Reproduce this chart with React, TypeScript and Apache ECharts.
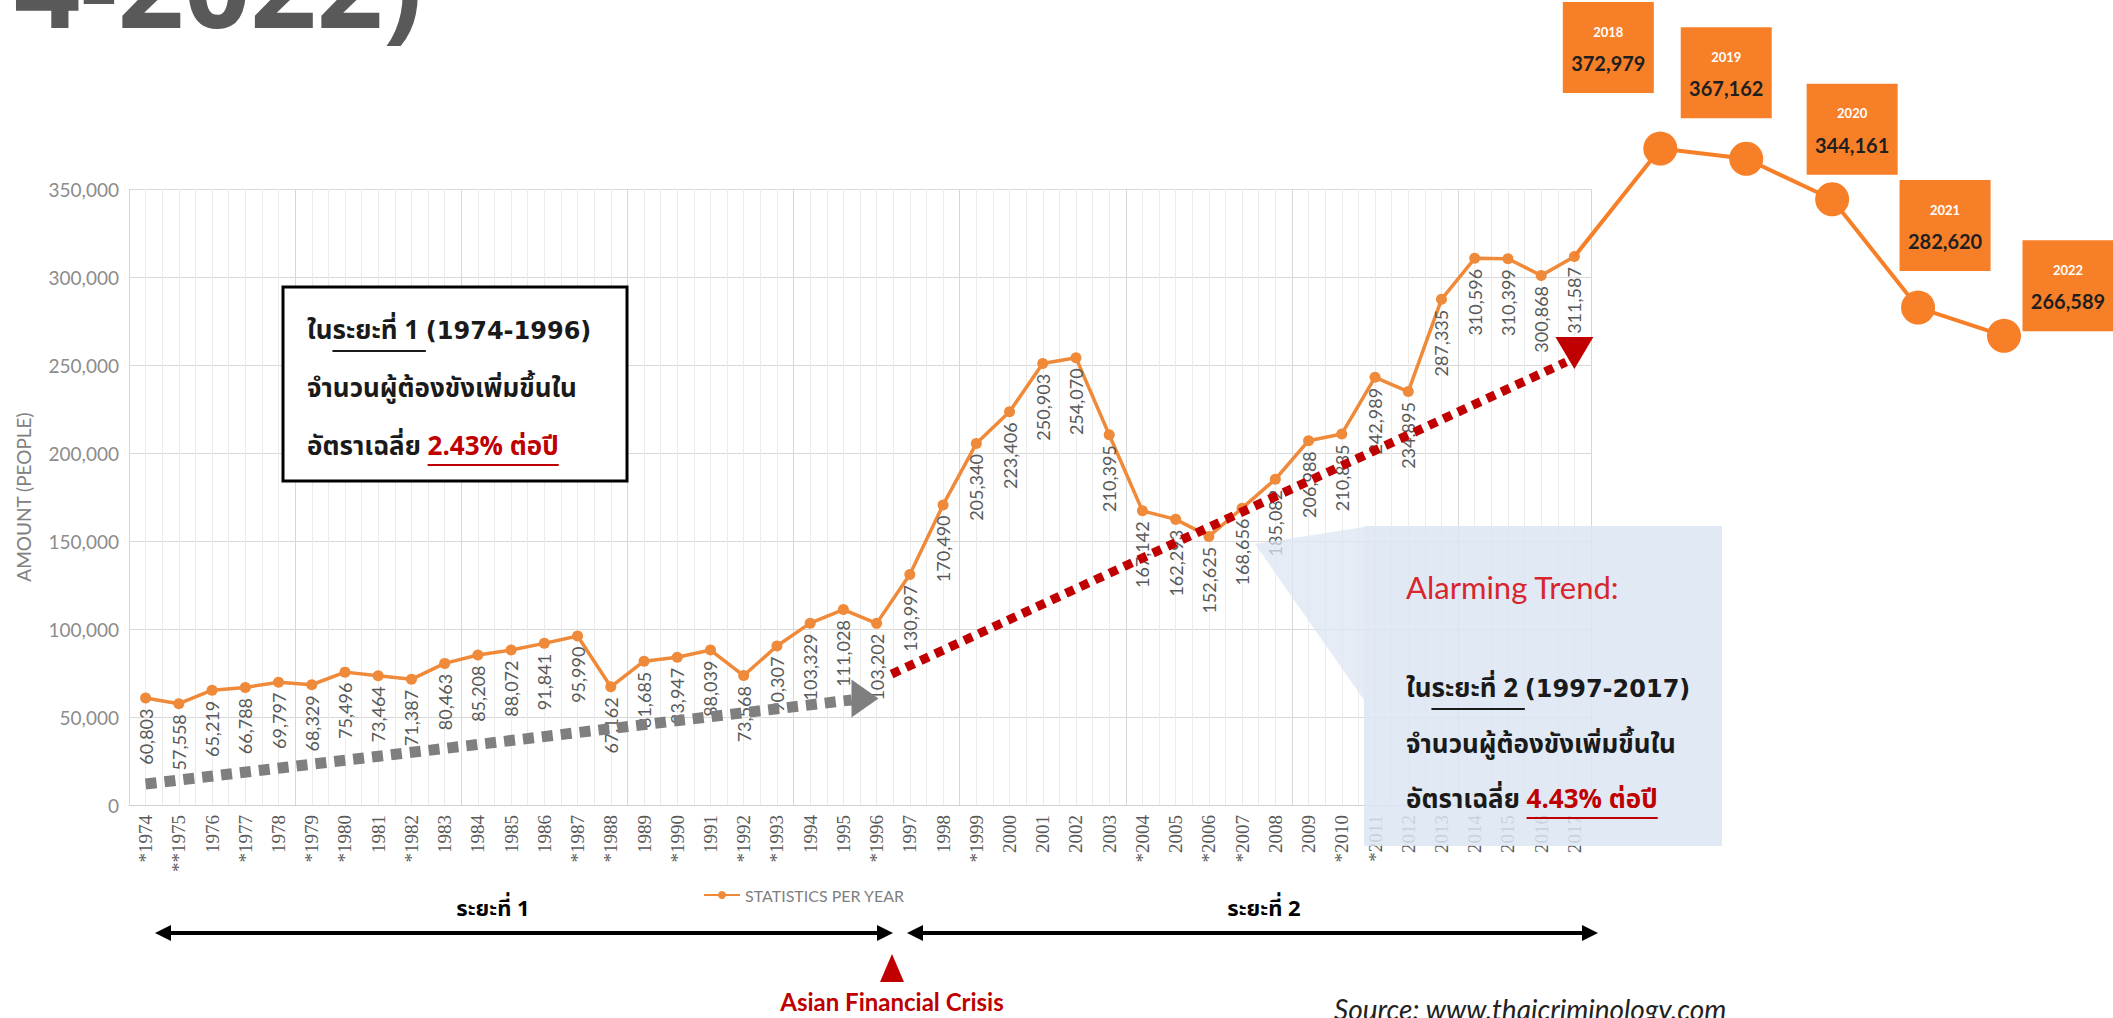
import React, { useEffect, useRef } from "react";
import * as echarts from "echarts";

// ---------- data ----------
const years = [
  "*1974", "**1975", "1976", "*1977", "1978", "*1979", "*1980", "1981", "*1982", "1983",
  "1984", "1985", "1986", "*1987", "*1988", "1989", "*1990", "1991", "*1992", "*1993",
  "1994", "1995", "*1996", "1997", "1998", "*1999", "2000", "2001", "2002", "2003",
  "*2004", "2005", "*2006", "*2007", "2008", "2009", "*2010", "*2011", "2012", "2013",
  "2014", "2015", "2016", "2017",
];
const prisoners = [
  60803, 57558, 65219, 66788, 69797, 68329, 75496, 73464, 71387, 80463,
  85208, 88072, 91841, 95990, 67162, 81685, 83947, 88039, 73568, 90307,
  103329, 111028, 103202, 130997, 170490, 205340, 223406, 250903, 254070, 210395,
  167142, 162293, 152625, 168656, 185082, 206988, 210835, 242989, 234895, 287335,
  310596, 310399, 300868, 311587,
];
const extYears = [2017, 2018, 2019, 2020, 2021, 2022];
const extPrisoners = [311587, 372979, 367162, 344161, 282620, 266589];
const yMin = 0;
const yMax = 350000;
const yStep = 50000;

// annotation anchors (x in half-category units on a hidden value axis, y in people)
const trendGray = [[1, 11900], [43.5, 59700]];
const trendGrayHead = [44.3, 60500];
const trendRed = [[45.9, 74400], [86.5, 251700]];
const trendRedHead = [87.0, 256800];
const extLabelOffsets = [[0, 0], [-52, -101], [-20, -86], [20, -70], [27, -82], [64, -50]];

// ---------- style constants ----------
const ORANGE = "#EF8A3A";
const ORANGE2 = "#F77F28";
const THAI = "Tahoma, 'Noto Sans Thai', 'Noto Sans Thai UI', Loma, Garuda, Waree, Kinnari, 'Noto Sans', sans-serif";
const LATIN_B = "'DejaVu Sans', sans-serif";
const fmt = (v: number) => v.toLocaleString("en-US");

const GRID_LEFT = 129;
const GRID_TOP = 189;
const GRID_W = 1462;
const GRID_H = 616;
const G2_LEFT = GRID_LEFT + (43.5 * GRID_W) / 44;
const G2_RIGHT = 2004;

let measureCtx: CanvasRenderingContext2D | null = null;
function tw(text: string, font: string) {
  if (!measureCtx) measureCtx = document.createElement("canvas").getContext("2d");
  measureCtx!.font = font;
  return measureCtx!.measureText(text).width;
}

type Part = { t: string; color?: string; ul?: boolean; family?: string; size?: number };
function row(parts: Part[], x: number, y: number, size: number, family: string, weight: string, ulOff: number) {
  const els: any[] = [];
  let cx = x;
  for (const p of parts) {
    const fam = p.family || family;
    const sz = p.size || size;
    const w = tw(p.t, `${weight} ${sz}px ${fam}`);
    const color = p.color || "#1a1a1a";
    els.push({
      type: "text", x: cx, y, z: 101,
      style: { text: p.t, fontSize: sz, fontFamily: fam, fontWeight: weight, fill: color, align: "left", verticalAlign: "middle" },
    });
    if (p.ul) {
      els.push({
        type: "line", z: 101,
        shape: { x1: cx, y1: y + ulOff, x2: cx + w, y2: y + ulOff },
        style: { stroke: color, lineWidth: 2 },
      });
    }
    cx += w;
  }
  return els;
}

function doubleArrow(x1: number, x2: number, y: number) {
  return [
    { type: "line", z: 100, shape: { x1: x1 + 10, y1: y, x2: x2 - 10, y2: y }, style: { stroke: "#000", lineWidth: 4 } },
    { type: "polygon", z: 100, shape: { points: [[x1, y], [x1 + 16, y - 8], [x1 + 16, y + 8]] }, style: { fill: "#000" } },
    { type: "polygon", z: 100, shape: { points: [[x2, y], [x2 - 16, y - 8], [x2 - 16, y + 8]] }, style: { fill: "#000" } },
  ];
}

function buildOption() {
  const graphics: any[] = [];
  // title fragment
  graphics.push({
    type: "text", x: 14, y: -17, z: 100,
    style: { text: "4-2022)", fontSize: 116, fontWeight: "bold", fontFamily: "'Open Sans', sans-serif", fill: "#595959", verticalAlign: "middle" },
  });
  // box 1
  graphics.push({ type: "rect", z: 100, shape: { x: 283, y: 287, width: 344, height: 194 }, style: { fill: "#fff", stroke: "#000", lineWidth: 3 } });
  graphics.push(...row([{ t: "ใน" }, { t: "ระยะที่ 1 ", ul: true }, { t: "(1974-1996)", family: LATIN_B, size: 24 }], 307, 331, 26, THAI, "bold", 20));
  graphics.push(...row([{ t: "จำนวนผู้ต้องขังเพิ่มขึ้นใน" }], 307, 389, 26, THAI, "bold", 20));
  graphics.push(...row([{ t: "อัตราเฉลี่ย " }, { t: "2.43% ต่อปี", color: "#C00000", ul: true }], 307, 447, 26, THAI, "bold", 18));
  // blue callout
  graphics.push({ type: "polygon", z: 99, shape: { points: [[1255, 544], [1364, 527], [1364, 700]] }, style: { fill: "#DCE6F2", opacity: 0.75 } });
  graphics.push({ type: "rect", z: 99, shape: { x: 1364, y: 526, width: 358, height: 320 }, style: { fill: "#DCE6F2", opacity: 0.85 } });
  graphics.push({
    type: "text", x: 1406, y: 587, z: 101,
    style: { text: "Alarming Trend:", fontSize: 31, fontFamily: "Lato, sans-serif", fill: "#D9262E", verticalAlign: "middle" },
  });
  graphics.push(...row([{ t: "ใน" }, { t: "ระยะที่ 2 ", ul: true }, { t: "(1997-2017)", family: LATIN_B, size: 24 }], 1406, 689, 26, THAI, "bold", 20));
  graphics.push(...row([{ t: "จำนวนผู้ต้องขังเพิ่มขึ้นใน" }], 1406, 745, 26, THAI, "bold", 20));
  graphics.push(...row([{ t: "อัตราเฉลี่ย " }, { t: "4.43% ต่อปี", color: "#C00000", ul: true }], 1406, 800, 26, THAI, "bold", 18));
  // period arrows
  graphics.push(...doubleArrow(155, 893, 933));
  graphics.push(...doubleArrow(907, 1598, 933));
  graphics.push({ type: "text", x: 493, y: 909, z: 100, style: { text: "ระยะที่ 1", fontSize: 22, fontWeight: "bold", fontFamily: THAI, fill: "#000", align: "center", verticalAlign: "middle" } });
  graphics.push({ type: "text", x: 1264, y: 909, z: 100, style: { text: "ระยะที่ 2", fontSize: 22, fontWeight: "bold", fontFamily: THAI, fill: "#000", align: "center", verticalAlign: "middle" } });
  // crisis marker
  graphics.push({ type: "polygon", z: 100, shape: { points: [[880, 982], [904, 982], [892, 954]] }, style: { fill: "#C00000" } });
  graphics.push({ type: "text", x: 892, y: 1001, z: 100, style: { text: "Asian Financial Crisis", fontSize: 24, fontWeight: "bold", fontFamily: "Lato, sans-serif", fill: "#C00000", align: "center", verticalAlign: "middle" } });
  // source
  graphics.push({ type: "text", x: 1334, y: 995, z: 100, style: { text: "Source: www.thaicriminology.com", fontSize: 28, fontStyle: "italic", fontFamily: "Lato, sans-serif", fill: "#222", align: "left", verticalAlign: "top" } });

  const hiddenAxisBits = { axisLine: { show: false }, axisTick: { show: false }, axisLabel: { show: false } };

  return {
    animation: false,
    backgroundColor: "#fff",
    textStyle: { fontFamily: "Lato, sans-serif" },
    legend: {
      data: ["STATISTICS PER YEAR"], left: 698, top: 882, itemWidth: 36, itemHeight: 10, itemGap: 4,
      textStyle: { fontSize: 16, color: "#7f7f7f", fontFamily: "Lato, sans-serif" },
    },
    grid: [
      { left: GRID_LEFT, top: GRID_TOP, width: GRID_W, height: GRID_H },
      { left: G2_LEFT, top: GRID_TOP, width: G2_RIGHT - G2_LEFT, height: GRID_H },
    ],
    xAxis: [
      {
        type: "category", gridIndex: 0, data: years, boundaryGap: true,
        axisLine: { lineStyle: { color: "#d0d0d0" } }, axisTick: { show: false },
        axisLabel: { interval: 0, rotate: 90, fontSize: 19, fontFamily: "'Liberation Serif', serif", color: "#595959", margin: 10 },
        splitLine: { show: false },
      },
      { type: "value", gridIndex: 0, min: 0, max: 88, interval: 1, ...hiddenAxisBits, splitLine: { show: true, lineStyle: { color: "#ebebeb", width: 1 } } },
      { type: "value", gridIndex: 0, min: 0, max: 88, interval: 10, ...hiddenAxisBits, splitLine: { show: true, lineStyle: { color: "#d8d8d8", width: 1 } } },
      { type: "value", gridIndex: 1, min: 2017, max: 2022, show: false },
    ],
    yAxis: [
      {
        type: "value", gridIndex: 0, min: yMin, max: yMax, interval: yStep,
        axisLine: { show: false }, axisTick: { show: false },
        axisLabel: { fontSize: 19, color: "#8c8c8c", margin: 10, formatter: (v: number) => fmt(v) },
        splitLine: { lineStyle: { color: "#d9d9d9" } },
        name: "AMOUNT (PEOPLE)", nameLocation: "middle", nameRotate: 90, nameGap: 96,
        nameTextStyle: { fontSize: 19, color: "#808080" },
      },
      { type: "value", gridIndex: 1, min: yMin, max: yMax, show: false },
    ],
    series: [
      {
        name: "STATISTICS PER YEAR", type: "line", xAxisIndex: 0, yAxisIndex: 0, data: prisoners,
        symbol: "circle", symbolSize: 11, z: 3,
        itemStyle: { color: ORANGE }, lineStyle: { width: 3.5, color: ORANGE },
        label: {
          show: true, position: "bottom", rotate: 90, align: "right", verticalAlign: "middle", distance: 5,
          fontSize: 18, color: "#595959", formatter: (p: any) => fmt(p.value),
        },
      },
      {
        name: "trend", type: "line", xAxisIndex: 1, yAxisIndex: 0, data: [], silent: true,
        markLine: {
          silent: true, symbol: ["none", "none"], label: { show: false },
          data: [
            [{ coord: trendGray[0], lineStyle: { color: "#7f7f7f", width: 11, type: [11, 8] } }, { coord: trendGray[1] }],
            [{ coord: trendRed[0], lineStyle: { color: "#C00000", width: 9, type: [9, 7] } }, { coord: trendRed[1] }],
          ],
        },
        markPoint: {
          silent: true, label: { show: false },
          data: [
            { coord: trendGrayHead, symbol: "triangle", symbolSize: [38, 27], symbolRotate: -90, itemStyle: { color: "#7f7f7f" } },
            { coord: trendRedHead, symbol: "triangle", symbolSize: [38, 32], symbolRotate: 180, itemStyle: { color: "#C00000" } },
          ],
        },
      },
      {
        name: "ext", type: "line", xAxisIndex: 3, yAxisIndex: 1, clip: false, z: 5,
        symbol: "circle",
        itemStyle: { color: ORANGE2 }, lineStyle: { width: 4, color: ORANGE2 },
        data: extYears.map((yr, i) => ({
          value: [yr, extPrisoners[i]],
          symbolSize: i === 0 ? 0 : 34,
          label: i === 0 ? { show: false } : { show: true, offset: extLabelOffsets[i] },
        })),
        label: {
          position: "inside", align: "center", verticalAlign: "middle",
          backgroundColor: ORANGE2, width: 91, padding: [14, 0, 14, 0],
          formatter: (p: any) => `{y|${p.value[0]}}\n{v|${fmt(p.value[1])}}`,
          rich: {
            y: { color: "#fff", fontSize: 13, fontWeight: "bold", lineHeight: 31, fontFamily: "Lato, sans-serif", align: "center" },
            v: { color: "#1f1f1f", fontSize: 20, fontWeight: "bold", lineHeight: 32, fontFamily: "Lato, sans-serif", align: "center" },
          },
        },
      },
    ],
    graphic: { elements: graphics },
  };
}

export default function App() {
  const ref = useRef<HTMLDivElement>(null);
  useEffect(() => {
    const chart = echarts.init(ref.current!, null, { renderer: "svg" });
    chart.setOption(buildOption() as any);
    return () => chart.dispose();
  }, []);
  return <div ref={ref} style={{ position: "absolute", left: 0, top: 0, width: 2113, height: 1018 }} />;
}
